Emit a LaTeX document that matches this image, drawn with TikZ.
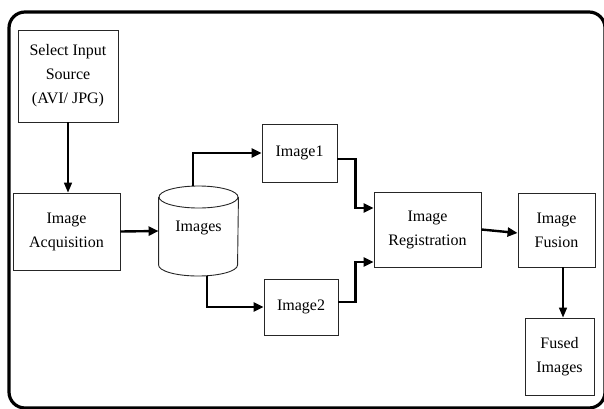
\documentclass[tikz,border=0pt]{standalone}
\usepackage{fontspec}
\setmainfont{Liberation Serif}
\usetikzlibrary{arrows.meta}

\begin{document}
\begin{tikzpicture}[x=1pt, y=1pt,
        box/.style={draw=black!85, line width=0.9pt, align=center, inner sep=0pt,
            font=\fontsize{16}{24}\selectfont},
        flow/.style={line width=2.4pt, -{Triangle[length=10pt, width=9pt]}},
        thinflow/.style={line width=1.6pt, -{Triangle[length=10pt, width=8pt]}}]
                \useasboundingbox (0,0) rectangle (604,408);
                \draw[line width=3.2pt, rounded corners=16pt] (9,396) rectangle (605,0);

                \node[box, minimum width=100, minimum height=92] (src) at (68,332) {Select Input\\Source\\(AVI/ JPG)};
                \node[box, minimum width=107, minimum height=77] (acq) at (66.5,176.5) {Image\\Acquisition};
                \node[box, minimum width=75, minimum height=58] (img1) at (299.5,255) {Image1};
                \node[box, minimum width=74, minimum height=56] (img2) at (301,101) {Image2};
                \node[box, minimum width=107, minimum height=75] (reg) at (427.5,178.5) {Image\\Registration};
                \node[box, minimum width=77, minimum height=74] (fus) at (556.5,178) {Image\\Fusion};
                \node[box, minimum width=69, minimum height=77] (out) at (559.5,51.5) {Fused\\Images};

                % storage drum
                \node[box, draw=none, minimum width=79, minimum height=90] (db) at (198.5,177) {};
                \draw[draw=black!85, line width=0.9pt] (db.center |- 0,211) ellipse [x radius=39.5, y radius=11];
                \draw[draw=black!85, line width=0.9pt] (db.west |- 0,211) -- (db.west |- 0,143)
                    arc [start angle=180, end angle=360, x radius=39.5, y radius=11] -- (db.east |- 0,211);
                \node[box, draw=none] (dbtext) at ([yshift=3pt]db.center) {Images};
                \coordinate (dbtop) at (193,222);
                \coordinate (dbbot) at (207,132);

                \draw[thinflow] (src) -- (src |- acq.north);
                \draw[flow] (acq.east) -- (db.west);
                \draw[flow] (dbtop) |- (img1.west);
                \draw[flow] (dbbot) |- (img2.west);
                \draw[flow] ([yshift=-6pt]img1.east) -- ++(18,0) |- ([yshift=21.5pt]reg.west);
                \draw[flow] ([yshift=5pt]img2.east) -- ++(17,0) |- ([yshift=-32.5pt]reg.west);
                \draw[flow] (reg.east) -- ([yshift=-3pt]fus.west);
                \draw[thinflow] ([xshift=6.5pt]fus.south) -- ([xshift=3.5pt]out.north);
            \end{tikzpicture}
\end{document}
